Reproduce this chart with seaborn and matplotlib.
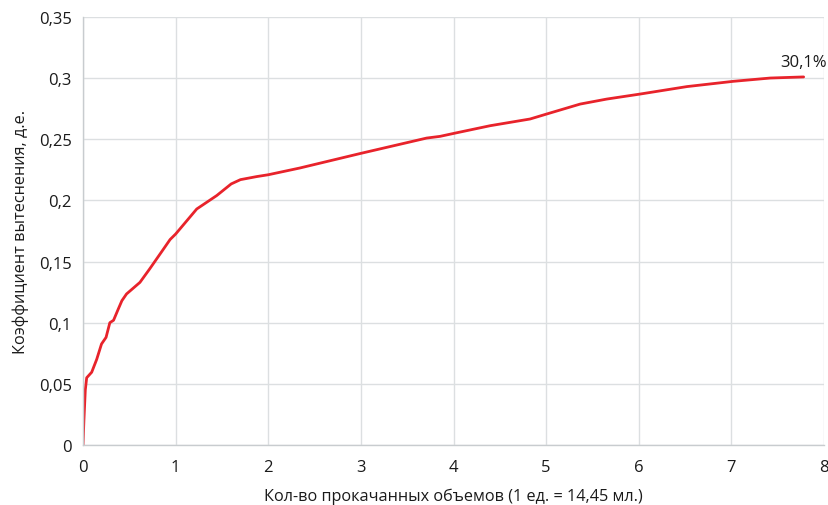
import matplotlib
matplotlib.use("Agg")
import matplotlib.pyplot as plt
import matplotlib.ticker as mticker
import seaborn as sns
import pandas as pd

# Displacement coefficient vs pumped pore volumes
volumes = [0.0, 0.01, 0.025, 0.04, 0.094, 0.148, 0.20, 0.249, 0.29, 0.33, 0.38, 0.42,
           0.47, 0.615, 0.72, 0.867, 0.94, 1.0, 1.228, 1.444, 1.60, 1.70, 1.875, 2.0,
           2.34, 3.0, 3.71, 3.855, 4.02, 4.395, 4.827, 5.007, 5.367, 5.655, 6.015,
           6.52, 7.02, 7.42, 7.78]
coef = [0.0, 0.02, 0.045, 0.055, 0.0595, 0.070, 0.0826, 0.088, 0.100, 0.102, 0.111, 0.118,
        0.1235, 0.133, 0.144, 0.160, 0.168, 0.1725, 0.193, 0.204, 0.2135, 0.2170, 0.2195, 0.221,
        0.2265, 0.2385, 0.2510, 0.2524, 0.2551, 0.2611, 0.2666, 0.2707, 0.2788, 0.2829, 0.2870,
        0.2931, 0.2974, 0.3001, 0.301]
final_label = "30,1%"
x_ticks = [0, 1, 2, 3, 4, 5, 6, 7, 8]
y_ticks = [0, 0.05, 0.1, 0.15, 0.2, 0.25, 0.3, 0.35]

df = pd.DataFrame({"volumes": volumes, "coef": coef})

sns.set_style("whitegrid")
plt.rcParams["font.family"] = ["Open Sans", "DejaVu Sans"]

fig = plt.figure(figsize=(8.29, 5.06), dpi=100)
ax = fig.add_axes([0.1001, 0.1186, 0.8939, 0.8458])

sns.lineplot(data=df, x="volumes", y="coef", sort=False, color="#E8232B",
             linewidth=2.0, ax=ax)

ax.set_xlim(0, 8)
ax.set_ylim(0, 0.35)
ax.set_xticks(x_ticks)
ax.set_yticks(y_ticks)

def comma_fmt(v, pos):
    s = f"{v:.2f}".rstrip("0").rstrip(".")
    return s.replace(".", ",")

ax.yaxis.set_major_formatter(mticker.FuncFormatter(comma_fmt))
ax.xaxis.set_major_formatter(mticker.FuncFormatter(lambda v, p: f"{int(v)}"))

ax.grid(True, color="#DCDFE1", linewidth=1.0)
for side in ["top", "right"]:
    ax.spines[side].set_visible(False)
for side in ["left", "bottom"]:
    ax.spines[side].set_visible(True)
    ax.spines[side].set_color("#C8CCCF")
    ax.spines[side].set_linewidth(1.0)

ax.tick_params(axis="both", which="major", length=5, width=1, color="#C8CCCF",
               labelsize=12, labelcolor="#1a1a1a", direction="out")
ax.tick_params(axis="x", pad=5)
ax.tick_params(axis="y", pad=3)

ax.set_xlabel("Кол-во прокачанных объемов (1 ед. = 14,45 мл.)", fontsize=11.7,
              color="#1a1a1a", labelpad=9)
ax.set_ylabel("Коэффициент вытеснения, д.е.", fontsize=11.7, color="#1a1a1a",
              labelpad=7)

ax.text(volumes[-1], coef[-1] + 0.006, final_label, ha="center", va="bottom",
        fontsize=12, color="#1a1a1a")

fig.savefig("out.png", dpi=100)
